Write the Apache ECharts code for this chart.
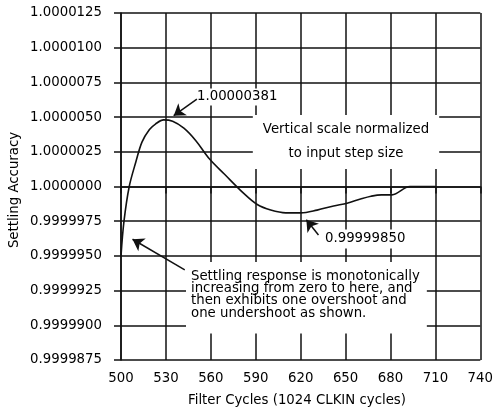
<!DOCTYPE html>
<html>
<head>
<meta charset="utf-8">
<script src="https://cdn.jsdelivr.net/npm/echarts@6/dist/echarts.min.js"></script>
<style>html,body{margin:0;padding:0;background:#fff;}#chart{width:496px;height:414px;}</style>
</head>
<body>
<div id="chart"></div>
<script>
// ---- data ----
const xTickLabels = ['500', '530', '560', '590', '620', '650', '680', '710', '740'];
const yTickLabels = ['0.9999875', '0.9999900', '0.9999925', '0.9999950', '0.9999975',
                     '1.0000000', '1.0000025', '1.0000050', '1.0000075', '1.0000100', '1.0000125'];
const xCycles = [500, 502, 505.5, 510, 514, 519, 523, 528.5, 534.5, 542, 550, 559, 569,
                 582, 591, 600, 610, 620, 631, 642, 651, 660, 667, 674, 681, 693, 710];
const accuracy = [0.9999950, 0.9999975, 1.0000000, 1.0000018, 1.0000032, 1.0000041, 1.0000045,
                  1.0000048, 1.0000047, 1.0000042, 1.0000033, 1.0000020, 1.0000009,
                  0.9999995, 0.9999987, 0.9999983, 0.9999981, 0.9999981, 0.9999983, 0.9999986,
                  0.9999988, 0.9999991, 0.9999993, 0.9999994, 0.9999994, 1.0000000, 1.0000000];
const xAxisTitle = 'Filter Cycles (1024 CLKIN cycles)';
const yAxisTitle = 'Settling Accuracy';
const peakLabel = '1.00000381';
const troughLabel = '0.99999850';
const scaleNote = ['Vertical scale normalized', 'to input step size'];
const responseNote = ['Settling response is monotonically', 'increasing from zero to here, and',
                      'then exhibits one overshoot and', 'one undershoot as shown.'];
// arrows: [fromX, fromY, toX, toY] in data units
const arrowPeak = [550.7, 1.0000063, 535.2, 1.0000051];
const arrowTrough = [631.9, 0.9999965, 623.8, 0.9999976];
const arrowStart = [542.6, 0.9999940, 507.7, 0.9999962];

// ---- build ----
const X0 = 500;           // axis origin in cycles
const toX = v => v - X0;
const toY = v => (v - 1) * 1e7;  // units of 1e-7
const seriesData = xCycles.map((x, i) => [toX(x), toY(accuracy[i])]);
const arrowLine = a => [{ coord: [toX(a[0]), toY(a[1])] }, { coord: [toX(a[2]), toY(a[3])] }];

const FONT = '"DejaVu Sans", sans-serif';
const INK = '#111';
const lineStyle = { color: INK, width: 1.5 };

const chart = echarts.init(document.getElementById('chart'), null, { renderer: 'canvas' });
chart.setOption({
  animation: false,
  backgroundColor: '#fff',
  grid: { left: 121, right: 15, top: 13, bottom: 54, show: false },
  xAxis: {
    type: 'value', min: 0, max: 240, interval: 30,
    axisLine: { show: true, lineStyle: lineStyle },
    axisTick: { show: true, length: 7, inside: false, lineStyle: lineStyle },
    splitLine: { show: true, lineStyle: lineStyle },
    axisLabel: {
      formatter: v => xTickLabels[Math.round(v / 30)],
      margin: 12, fontFamily: FONT, fontSize: 13.3, color: '#000'
    }
  },
  yAxis: {
    type: 'value', min: -125, max: 125, interval: 25,
    axisLine: { show: true, lineStyle: lineStyle },
    axisTick: { show: true, length: 7, inside: false, lineStyle: lineStyle },
    splitLine: { show: true, lineStyle: lineStyle },
    axisLabel: {
      formatter: v => yTickLabels[Math.round((v + 125) / 25)],
      margin: 19, padding: [10, 0, 0, 0], fontFamily: FONT, fontSize: 13.3, color: '#000'
    }
  },
  series: [{
    type: 'line',
    data: seriesData,
    showSymbol: false,
    smooth: 0.35,
    z: 10,
    lineStyle: { color: INK, width: 1.6 },
    markLine: {
      silent: true,
      z: 12,
      symbol: ['none', 'arrow'],
      symbolSize: 11,
      label: { show: false },
      lineStyle: { color: INK, width: 1.5, type: 'solid' },
      data: [arrowLine(arrowPeak), arrowLine(arrowTrough), arrowLine(arrowStart)]
    }
  }],
  graphic: [
    { type: 'text', x: 15, y: 190, rotation: Math.PI / 2, z: 3,
      style: { text: yAxisTitle, font: '13.3px ' + FONT, fill: '#000', align: 'center', verticalAlign: 'middle' } },
    { type: 'text', x: 297, y: 401, z: 3,
      style: { text: xAxisTitle, font: '13.3px ' + FONT, fill: '#000', align: 'center', verticalAlign: 'middle' } },
    { type: 'text', x: 195, y: 97, z: 3,
      style: { text: peakLabel, font: '13.3px ' + FONT, fill: '#000', align: 'left', verticalAlign: 'middle',
               backgroundColor: '#fff', padding: [2, 2, 2, 2] } },
    { type: 'text', x: 346, y: 142, z: 3,
      style: { text: scaleNote.join('\n'), font: '13.3px ' + FONT, fill: '#000', align: 'center', verticalAlign: 'middle',
               lineHeight: 24, backgroundColor: '#fff', padding: [6, 10, 0, 10] } },
    { type: 'text', x: 323, y: 239, z: 3,
      style: { text: troughLabel, font: '13.3px ' + FONT, fill: '#000', align: 'left', verticalAlign: 'middle',
               backgroundColor: '#fff', padding: [3, 2, 3, 2] } },
    { type: 'text', x: 186, y: 262, z: 3,
      style: { text: responseNote.join('\n'), font: '13.3px ' + FONT, fill: '#000', align: 'left', verticalAlign: 'top',
               lineHeight: 12.4, backgroundColor: '#fff', padding: [8, 7, 14, 5] } }
  ]
});
</script>
</body>
</html>
